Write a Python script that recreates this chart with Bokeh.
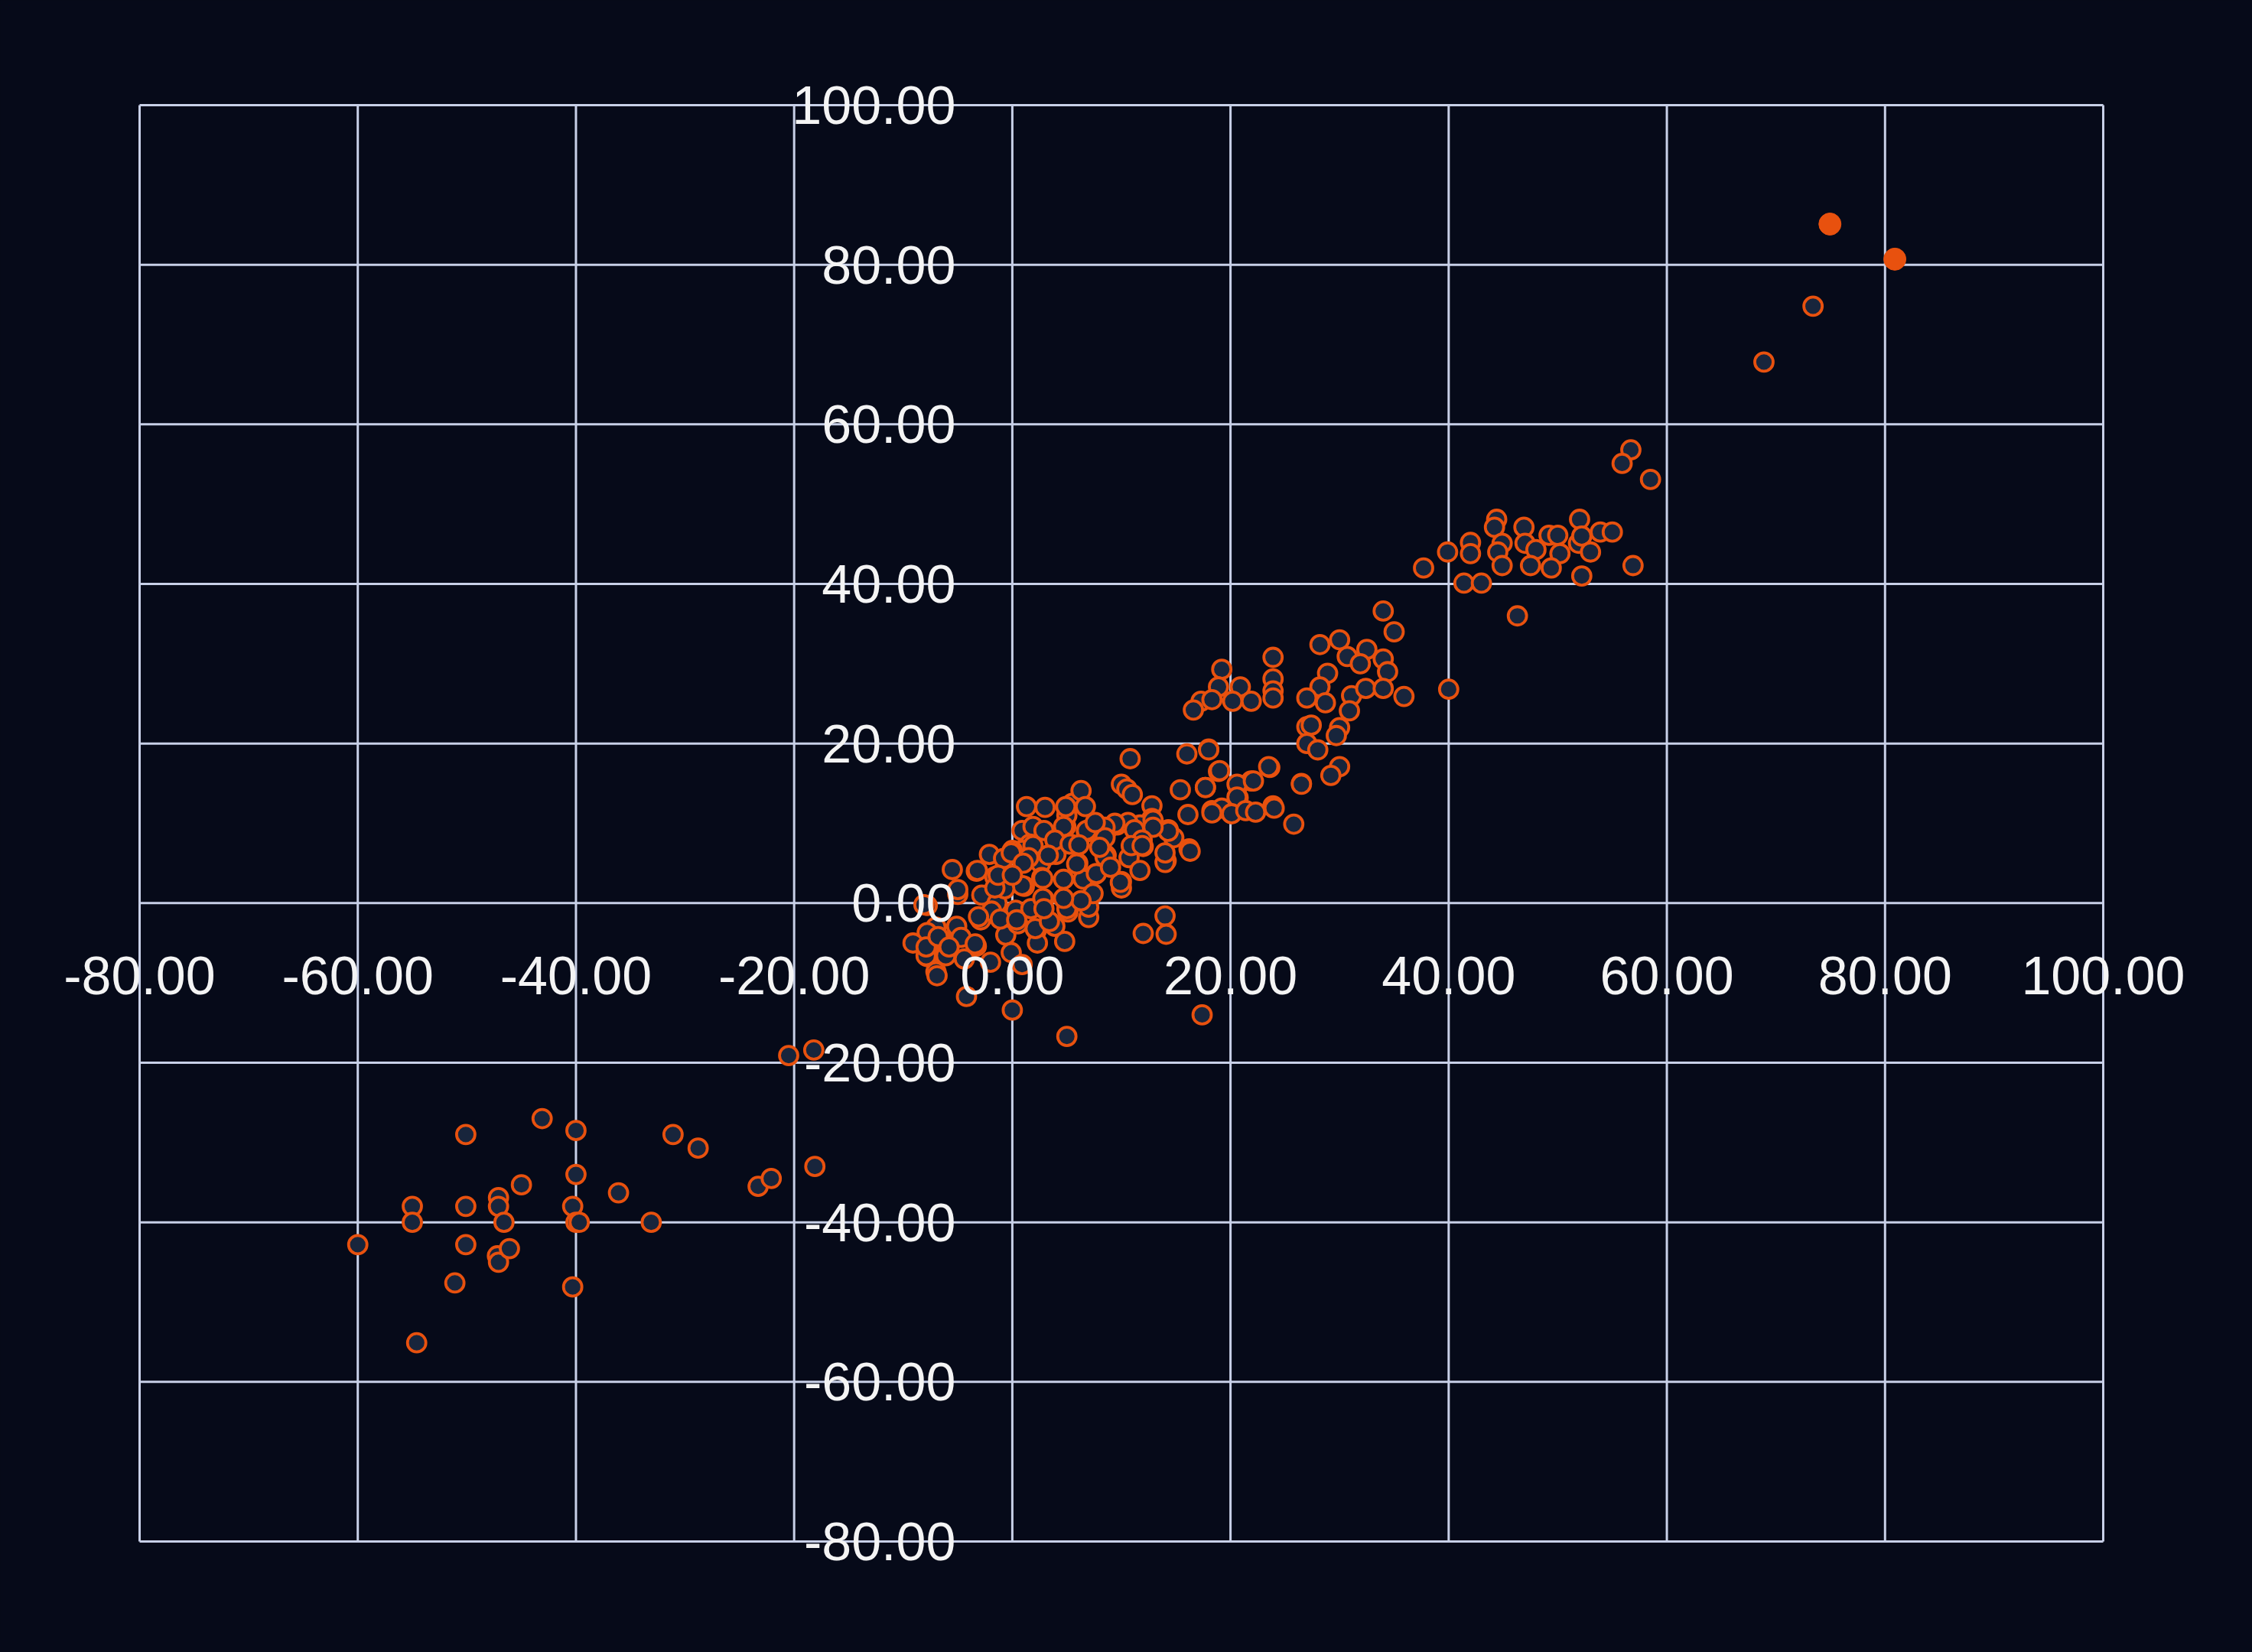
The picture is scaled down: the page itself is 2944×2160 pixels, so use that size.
from bokeh.plotting import figure
from bokeh.models import Range1d, FixedTicker
from bokeh.embed import file_html
from bokeh.resources import INLINE

# ---- data ----
tick_values = [-80, -60, -40, -20, 0, 20, 40, 60, 80, 100]
tick_labels = ["-80.00", "-60.00", "-40.00", "-20.00", "0.00", "20.00", "40.00", "60.00", "80.00", "100.00"]

lower_x = [-60, -55, -55, -54.6, -50.1, -50.1, -50.1, -51.1, -47.1, -47.1, -46.6, -47.2, -47.1, -46.1,
           -45, -43.1, -40, -40, -40.3, -40, -39.7, -40.3, -36.1, -33.1, -31.1, -28.8, -23.3, -22.1,
           -18.1, -20.5, -18.2]
lower_y = [-42.8, -38, -40, -55.1, -29, -38, -42.8, -47.6, -36.9, -38, -40, -44.2, -45, -43.3,
           -35.3, -27, -28.5, -34, -38, -40, -40, -48.1, -36.3, -40, -29, -30.7, -35.5, -34.5,
           -33, -19.1, -18.4]

upper_x = [73.4, 68.9, 56.7, 55.9, 58.5, 44.4, 44.2, 46.9, 42.0, 39.9, 42.0, 44.9, 44.5, 47.0, 49.2,
           50.0, 52.0, 51.9, 52.2, 53.0, 53.9, 55.0, 48.0, 50.2, 44.9, 47.5, 49.4, 52.2, 56.9, 37.7,
           41.4, 43.0, 46.3, 40.0]
upper_y = [74.8, 67.8, 56.8, 55.1, 53.1, 48.1, 47.1, 47.1, 45.2, 44.0, 43.8, 45.1, 44.0, 45.1, 46.1,
           46.1, 48.1, 45.1, 46.0, 44.0, 46.5, 46.5, 44.3, 43.8, 42.3, 42.3, 42.0, 41.0, 42.3, 42.0,
           40.1, 40.1, 36.0, 26.8]

band_x = [34.0, 35.0, 28.2, 30.0, 30.7, 32.5, 31.9, 34.0, 34.4, 28.9, 28.2, 27.0, 28.7, 31.1, 32.4,
          34.0, 35.9, 30.9, 27.0, 27.4, 30.0, 29.7, 27.0, 28.0, 30.0, 29.2, 26.5, 23.6, 23.9, 23.9,
          23.9, 23.9, 19.2, 18.9, 20.9, 17.3, 18.3, 20.2, 21.9, 16.6, 18.0, 18.9, 17.7, 20.7, 21.9,
          20.7, 23.9]
band_y = [36.6, 34.0, 32.4, 33.0, 30.9, 31.8, 30.0, 30.6, 29.0, 28.8, 27.1, 25.7, 25.1, 26.0, 26.9,
          26.9, 25.9, 24.1, 22.1, 22.3, 22.0, 21.0, 20.0, 19.2, 17.1, 16.0, 15.0, 17.0, 30.8, 28.1,
          26.6, 25.7, 29.3, 27.1, 27.1, 25.3, 25.5, 25.3, 25.3, 24.2, 19.3, 16.5, 14.5, 14.8, 15.3,
          13.2, 12.2]

mid_x = [10.8, 16.0, 18.0, 19.0, 23.5, 10.0, 10.5, 11.0, 15.4, 17.7, 20.6, 22.1, 20.6, 23.9, 26.5,
         25.8, 18.3, 16.1, 19.2, 20.1, 21.4, 22.3, 12.8, 12.8, 11.7, 14.3, 14.8, 16.2, 12.0, 14.1,
         10.7, 11.7, 10.0, 10.0, 8.6, 7.6, 7.0, 9.6, 10.6, 8.7, 12.9, 14.3, 16.3, 14.0, 14.0, 14.1,
         12.0, 17.4, 24.0, 18.3, 11.2, 12.9, 14.0, 9.4, 11.9]
mid_y = [18.1, 18.7, 19.2, 16.6, 17.1, 14.9, 14.3, 13.6, 14.2, 14.5, 14.9, 15.3, 13.3, 12.1, 14.9,
         9.9, 11.6, 11.1, 11.9, 11.2, 11.6, 11.4, 12.2, 10.6, 9.8, 9.2, 8.2, 6.8, 7.1, 5.3,
         5.7, 4.1, 2.7, 1.9, 6.0, 3.6, 9.2, 9.8, 10.1, 9.2, 10.4, 9.0, 6.5, 5.1, -1.6, -3.9,
         -3.8, -14.0, 11.9, 11.3, 9.2, 9.5, 6.3, 10.0, 7.9]

core_x = [1.3, 3.0, 5.5, 6.3, 0.9, 1.9, 2.9, 4.9, 6.8, 4.0, 1.6, 4.0, 6.0, 2.6, 0.9, -2.1, -0.8, 0.0,
          -3.3, -5.5, -1.5, -0.1, 1.1, 2.7, 4.7, 6.5, -2.8, -5.0, -7.8, -1.4, 0.2, 2.9, 5.1, 7.0,
          -2.9, -1.9, -5.1, -7.0, -7.8, -9.1, -7.8, -7.8, -6.5, -4.7, -3.3, -6.1, -4.4, -0.6, 0.5,
          2.2, 3.9, 4.8, 2.3, -0.1, -2.0, -7.0, 0.9,
          5.0, 4.7, 6.8, 8.5, 3.9, 1.9, 1.5, 2.8, 0.9, -0.1, -3.2, -1.6, -5.0, -0.7, 0.3, 1.7, 2.8,
          5.0, 7.0, -3.1, -1.1, -3.4, 2.1, 3.4, -7.9, -7.9, -6.8, -5.8, -4.2, 0.0, 5.0, 8.5, 7.6,
          10.9, 8.5, 7.7, 5.9, 9.9, 11.9, -8.1, -6.9, 7.4, 6.3, 9.0, 8.0,
          6.7, 4.9, 5.3, 6.1, 1.0, 4.7, -1.6, 0.4, -1.3, 0.0, 2.9, 3.3]
core_y = [12.1, 12.0, 12.5, 14.1, 9.1, 9.6, 9.1, 9.6, 8.9, 7.8, 7.4, 6.1, 5.0, 5.0, 6.6, 6.1, 5.6, 6.6,
          4.0, 4.2, 3.2, 3.0, 2.1, 3.2, 3.0, 3.0, 1.0, 1.1, -0.3, 0.0, -1.1, 0.5, -1.1, -1.8,
          -2.1, -1.0, -2.9, -3.0, -3.7, -5.0, -5.9, -6.7, -4.6, -4.3, -5.4, -6.6, -7.0, -4.0, -2.6,
          -3.4, -2.9, -4.8, -5.0, -6.2, -7.4, -8.6, -7.7,
          11.0, 9.6, 9.1, 9.5, 7.9, 7.2, 5.7, 3.1, 2.2, 6.3, 4.1, 3.3, 1.7, 1.8, -0.9, -0.7, 0.6,
          -0.7, -0.5, -1.7, -2.0, -5.1, -3.2, -2.3, -6.6, -5.5, -4.2, -5.5, -11.7, -13.4, -16.7, 8.2, 10.1,
          7.2, 5.8, 3.7, 4.9, 2.6, 7.2, -0.2, -9.1, 1.2, 0.3, 4.5, 7.0,
          12.1, 12.1, 7.4, 7.3, 5.0, 0.6, 1.9, -2.1, 3.5, 3.5, -0.7, 6.0]

highlight_x = [74.95, 80.9]
highlight_y = [85.1, 80.7]

xs = lower_x + upper_x + band_x + mid_x + core_x
ys = lower_y + upper_y + band_y + mid_y + core_y

# ---- styling ----
BG = "#060a19"
GRID = "#c8d0e8"
ORANGE = "#e8510e"
FILL = "#18253c"
TXT = "#f4f4f4"

W, H = 2928, 2144
lo, hi = tick_values[0], tick_values[-1]
# pixel box of the data area inside the figure
FL, FR, FT, FB = 182, 2749, 137, 2015
sx = (FR - FL) / (hi - lo)
sy = (FB - FT) / (hi - lo)
x_range = Range1d(lo - FL / sx, hi + (W - FR) / sx)
y_range = Range1d(lo - (H - FB) / sy, hi + FT / sy)

p = figure(width=W, height=H, x_range=x_range, y_range=y_range,
           output_backend="svg", toolbar_location=None,
           background_fill_color=BG, border_fill_color=BG,
           min_border_left=0, min_border_right=0,
           min_border_top=0, min_border_bottom=0,
           outline_line_color=None)

p.xgrid.grid_line_color = None
p.ygrid.grid_line_color = None

# grid box from the tick values
n = len(tick_values)
p.segment(x0=tick_values, x1=tick_values, y0=[lo] * n, y1=[hi] * n,
          line_color=GRID, line_width=3)
p.segment(x0=[lo] * n, x1=[hi] * n, y0=tick_values, y1=tick_values,
          line_color=GRID, line_width=3)

for ax in (p.xaxis[0], p.yaxis[0]):
    ax.ticker = FixedTicker(ticks=tick_values)
    ax.major_label_overrides = {v: s for v, s in zip(tick_values, tick_labels)}
    ax.fixed_location = 0
    ax.axis_line_color = None
    ax.major_tick_line_color = None
    ax.minor_tick_line_color = None
    ax.major_label_text_font = "Liberation Sans"
    ax.major_label_text_font_size = "70px"
    ax.major_label_text_color = TXT

p.xaxis[0].major_label_standoff = 64
p.yaxis[0].major_label_standoff = 68

p.scatter(xs, ys, size=24, fill_color=FILL, line_color=ORANGE, line_width=3.8)
p.scatter(highlight_x, highlight_y, size=29, fill_color=ORANGE, line_color=ORANGE, line_width=1)

html = file_html(p, INLINE)
html = html.replace("<head>", "<head><style>html,body{background:%s;}</style>" % BG, 1)
open("out.html", "w").write(html)
